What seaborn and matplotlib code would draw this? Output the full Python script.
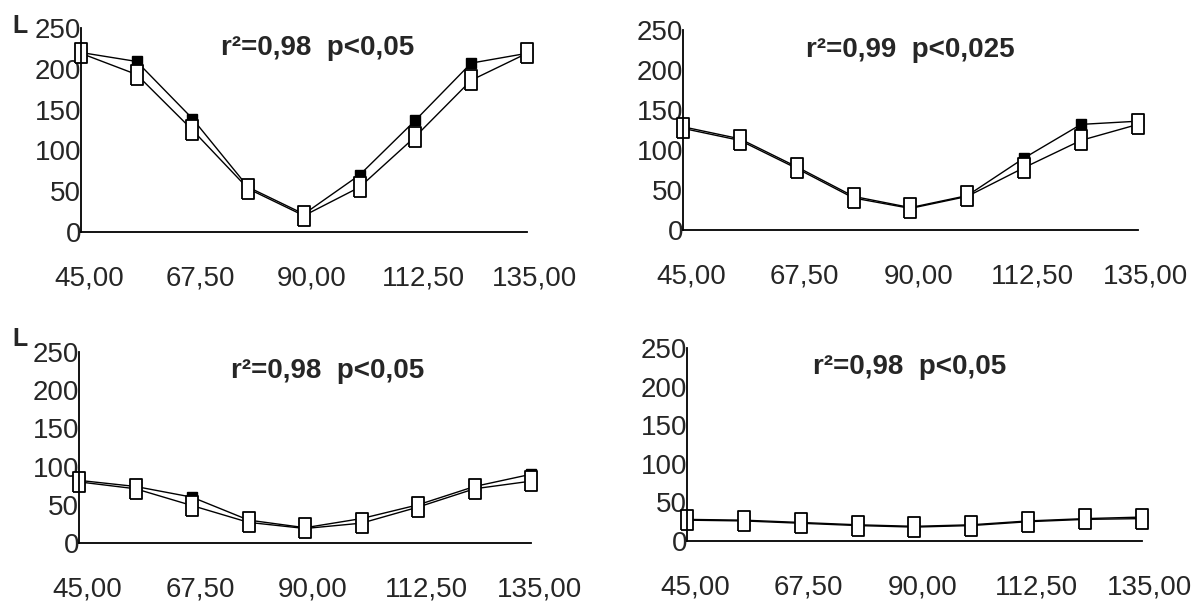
import matplotlib
matplotlib.use('Agg')
import matplotlib.pyplot as plt
import matplotlib.transforms as mtransforms
import pandas as pd
import seaborn as sns

angles = [45, 56.25, 67.5, 78.75, 90, 101.25, 112.5, 123.75, 135]
x_ticks = [45, 67.5, 90, 112.5, 135]
x_labels = ['45,00', '67,50', '90,00', '112,50', '135,00']
y_ticks = [0, 50, 100, 150, 200, 250]

p1_filled = [220, 209, 139, 55, 22, 70, 137, 207, 219]
p1_open = [219, 193, 125, 53, 20, 55, 117, 186, 219]
p2_filled = [129, 114, 79, 42, 28, 43, 90, 132, 136]
p2_open = [127, 112, 77, 40, 27, 42, 78, 112, 132]
p3_filled = [82, 74, 60, 30, 20, 32, 50, 74, 90]
p3_open = [80, 71, 49, 27, 19, 26, 47, 71, 81]
p4_filled = [28, 27, 24, 21, 19, 21, 26, 29, 31]
p4_open = [27, 26, 23, 20, 18, 20, 25, 28, 29]

titles = ['r\u00b2=0,98  p<0,05', 'r\u00b2=0,99  p<0,025',
          'r\u00b2=0,98  p<0,05', 'r\u00b2=0,98  p<0,05']
panels = [(p1_filled, p1_open), (p2_filled, p2_open),
          (p3_filled, p3_open), (p4_filled, p4_open)]

sns.set_style('white')
plt.rcParams['font.family'] = ['Liberation Sans', 'DejaVu Sans']

fig = plt.figure(figsize=(11.94, 6.08), dpi=100)

# axes boxes in figure fraction
boxes = [[0.0678, 0.6184, 0.3735, 0.3355],
         [0.5720, 0.6217, 0.3810, 0.3290],
         [0.0662, 0.1069, 0.3786, 0.3141],
         [0.5754, 0.1102, 0.3810, 0.3174]]
title_x = [0.53, 0.50, 0.55, 0.49]

tall_rect = [(-0.6, -1), (0.6, -1), (0.6, 1), (-0.6, 1), (-0.6, -1)]

for i, (filled, opened) in enumerate(panels):
    ax = fig.add_axes(boxes[i])
    df = pd.DataFrame({'Angle': angles, 'Filled': filled, 'Open': opened})
    sns.lineplot(data=df, x='Angle', y='Filled', ax=ax, color='black', lw=1,
                 marker='s', markersize=7, markerfacecolor='black',
                 markeredgecolor='black', markeredgewidth=1, clip_on=False)
    sns.lineplot(data=df, x='Angle', y='Open', ax=ax, color='black', lw=1,
                 marker=tall_rect, markersize=14, markerfacecolor='white',
                 markeredgecolor='black', markeredgewidth=1.3, clip_on=False)
    ax.set_xlim(45, 135)
    ax.set_ylim(0, 250)
    ax.set_xticks(x_ticks)
    ax.set_xticklabels(x_labels)
    ax.set_yticks(y_ticks)
    ax.set_xlabel('')
    ax.set_ylabel('')
    sns.despine(ax=ax)
    for s in ['left', 'bottom']:
        ax.spines[s].set_linewidth(1.3)
        ax.spines[s].set_color('black')
    ax.tick_params(axis='x', labelsize=20, pad=22, length=4, direction='inout', width=1)
    ax.tick_params(axis='y', labelsize=20, pad=0, length=0)
    offset = mtransforms.ScaledTranslation(0.08, 0, fig.dpi_scale_trans)
    for lab in ax.get_xticklabels():
        lab.set_transform(lab.get_transform() + offset)
    ax.text(title_x[i], 0.9, titles[i], transform=ax.transAxes, ha='center',
            va='center', fontsize=20, fontweight='bold')

fig.text(0.010, 0.958, 'L', fontsize=18, fontweight='bold', va='center')
fig.text(0.010, 0.443, 'L', fontsize=18, fontweight='bold', va='center')

plt.savefig('out.png', dpi=100)
